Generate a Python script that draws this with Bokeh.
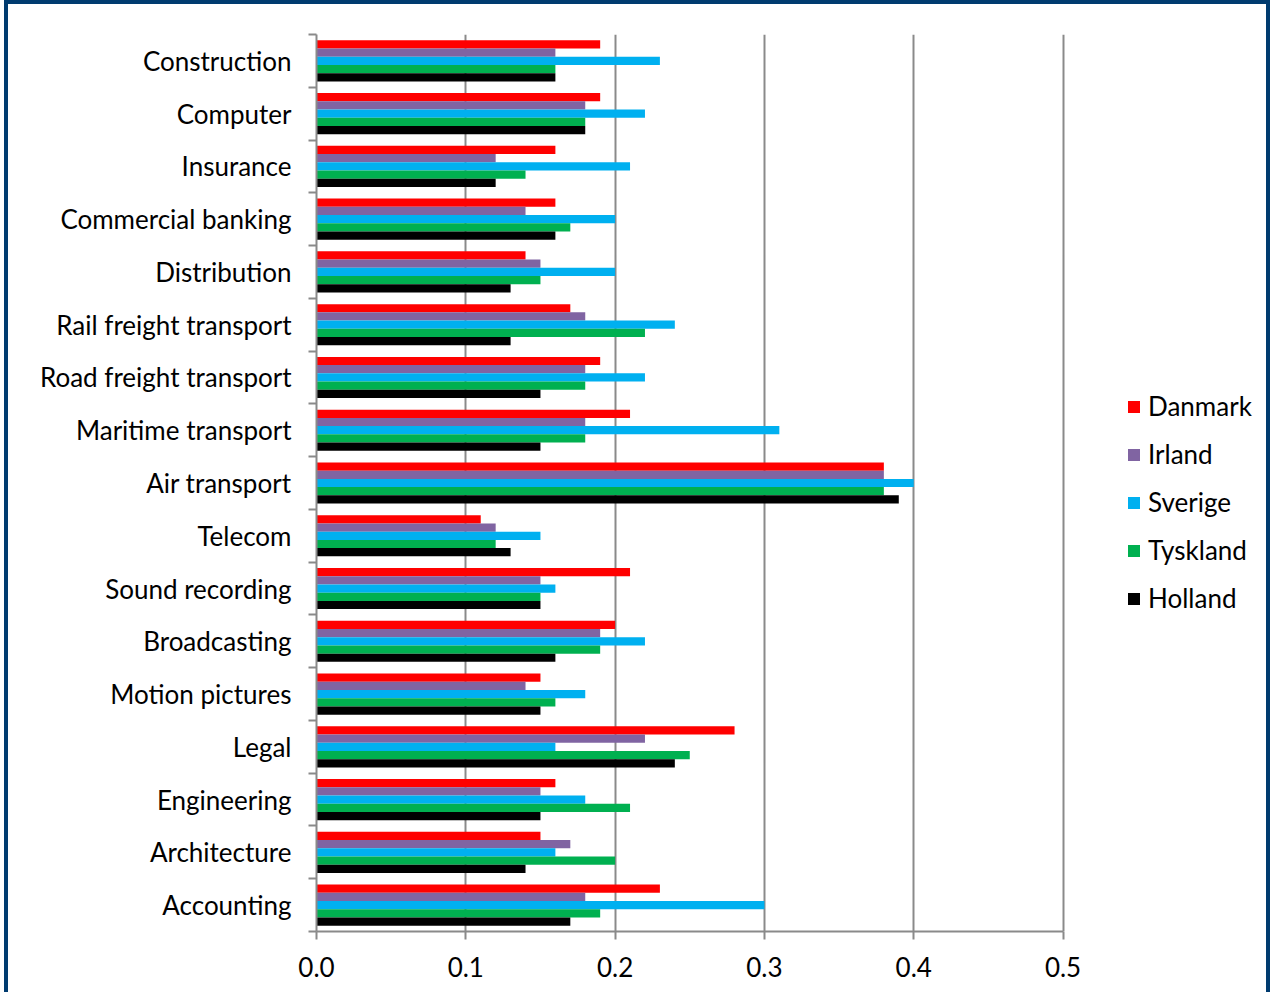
from bokeh.plotting import figure
from bokeh.models import (Range1d, FixedTicker, Legend, LegendItem,
                          ColumnDataSource, NumeralTickFormatter)
from bokeh.transform import dodge
from bokeh.embed import file_html
from bokeh.resources import INLINE

categories = ["Construction", "Computer", "Insurance", "Commercial banking", "Distribution",
              "Rail freight transport", "Road freight transport", "Maritime transport",
              "Air transport", "Telecom", "Sound recording", "Broadcasting", "Motion pictures",
              "Legal", "Engineering", "Architecture", "Accounting"]
series = ["Danmark", "Irland", "Sverige", "Tyskland", "Holland"]
danmark  = [0.19, 0.19, 0.16, 0.16, 0.14, 0.17, 0.19, 0.21, 0.38, 0.11, 0.21, 0.20, 0.15, 0.28, 0.16, 0.15, 0.23]
irland   = [0.16, 0.18, 0.12, 0.14, 0.15, 0.18, 0.18, 0.18, 0.38, 0.12, 0.15, 0.19, 0.14, 0.22, 0.15, 0.17, 0.18]
sverige  = [0.23, 0.22, 0.21, 0.20, 0.20, 0.24, 0.22, 0.31, 0.40, 0.15, 0.16, 0.22, 0.18, 0.16, 0.18, 0.16, 0.30]
tyskland = [0.16, 0.18, 0.14, 0.17, 0.15, 0.22, 0.18, 0.18, 0.38, 0.12, 0.15, 0.19, 0.16, 0.25, 0.21, 0.20, 0.19]
holland  = [0.16, 0.18, 0.12, 0.16, 0.13, 0.13, 0.15, 0.15, 0.39, 0.13, 0.15, 0.16, 0.15, 0.24, 0.15, 0.14, 0.17]
x_ticks = [0.0, 0.1, 0.2, 0.3, 0.4, 0.5]
colors = ["#FF0000", "#8064A2", "#00B0F0", "#00B050", "#000000"]

FONT = "Lato"
FS = "26px"
GRID = "#8a8a8a"
FRAME = "#003B6F"

n = len(categories)
# category slot centres, first category at the top
slot = [n - k - 0.5 for k in range(n)]

source = ColumnDataSource(dict(cat=categories, slot=slot, Danmark=danmark, Irland=irland,
                               Sverige=sverige, Tyskland=tyskland, Holland=holland))

# the plot frame also holds the legend area to the right; the axis stops at 0.5
p = figure(width=1266, height=992,
           y_range=Range1d(0, n), x_range=Range1d(0, 0.6403),
           output_backend="svg", toolbar_location=None,
           min_border_left=308, min_border_right=2, min_border_top=30, min_border_bottom=65)
p.outline_line_color = None
p.ygrid.visible = False
p.styles = {"border-left": f"4px solid {FRAME}", "border-right": f"4px solid {FRAME}",
            "border-top": f"4px solid {FRAME}", "margin-left": "4px"}

bar_h = 0.156
renderers = []
for i, (name, col) in enumerate(zip(series, colors)):
    r = p.hbar(y=dodge("slot", (2 - i) * bar_h), left=0, right=name,
               height=bar_h, source=source, fill_color=col, line_color=None)
    renderers.append(r)

# x axis
p.xaxis.ticker = FixedTicker(ticks=x_ticks)
p.xaxis.bounds = (x_ticks[0], x_ticks[-1])
p.xaxis.formatter = NumeralTickFormatter(format="0.0")
p.xaxis.axis_line_color = GRID
p.xaxis.axis_line_width = 2
p.xaxis.major_tick_line_color = GRID
p.xaxis.major_tick_line_width = 2
p.xaxis.major_tick_out = 8
p.xaxis.major_tick_in = 0
p.xaxis.minor_tick_line_color = None
p.xaxis.major_label_standoff = 17
p.xaxis.major_label_text_font = FONT
p.xaxis.major_label_text_font_size = FS
p.xaxis.major_label_text_color = "black"

p.xgrid.ticker = FixedTicker(ticks=x_ticks[1:])
p.xgrid.grid_line_color = GRID
p.xgrid.grid_line_width = 2

# y axis: labels at slot centres, Excel-style ticks at slot boundaries
ya = p.yaxis[0]
ya.ticker = FixedTicker(ticks=slot, minor_ticks=list(range(n + 1)))
ya.major_label_overrides = {s: c for s, c in zip(slot, categories)}
ya.axis_line_color = GRID
ya.axis_line_width = 2
ya.major_tick_line_color = None
ya.major_tick_out = 0
ya.major_tick_in = 0
ya.minor_tick_line_color = GRID
ya.minor_tick_line_width = 2
ya.minor_tick_out = 8
ya.minor_tick_in = 0
ya.major_label_standoff = 17
ya.major_label_text_font = FONT
ya.major_label_text_font_size = FS
ya.major_label_text_color = "black"

legend = Legend(items=[LegendItem(label=s, renderers=[r]) for s, r in zip(series, renderers)],
                location=(810, 317), padding=0, margin=0, border_line_color=None,
                background_fill_alpha=0, glyph_width=15, glyph_height=15,
                label_height=32, spacing=16, label_standoff=7,
                label_text_font=FONT, label_text_font_size=FS, label_text_color="black")
p.add_layout(legend)

open("out.html", "w").write(file_html(p, INLINE))
